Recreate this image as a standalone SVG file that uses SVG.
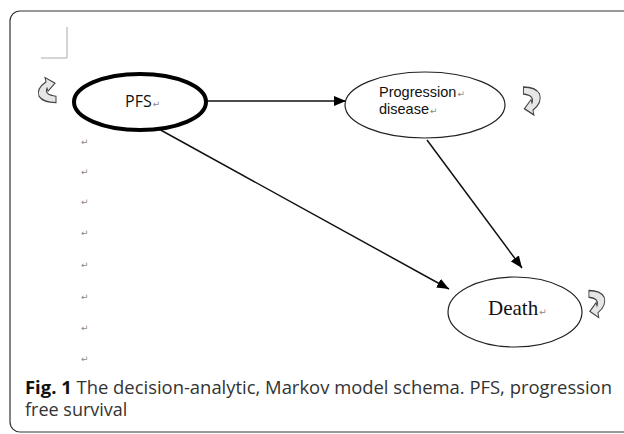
<svg xmlns="http://www.w3.org/2000/svg" width="624" height="434" viewBox="0 0 624 434">
<defs>
<style>
.node{fill:#fff;stroke:#222;stroke-width:1.2}
.thick{stroke:#000;stroke-width:4}
.sans{font-family:"Open Sans","Noto Sans",sans-serif;fill:#111}
.lab{font-family:"Liberation Sans",Arial,sans-serif;fill:#111}
.ret{font-family:"DejaVu Sans",sans-serif;font-size:9px;fill:#888}
.conn{stroke:#111;stroke-width:1.5;fill:none;marker-end:url(#ah)}
.loop{fill:#e6e6e6;stroke:#444;stroke-width:1}
.cap{font-family:"Open Sans","Noto Sans",sans-serif;font-size:18px;fill:#333}
</style>
<marker id="ah" viewBox="0 0 12 10" refX="12" refY="5" markerWidth="12" markerHeight="10" markerUnits="userSpaceOnUse" orient="auto">
<path d="M0,0 L12,5 L0,10 Z" fill="#000"/>
</marker>
<path id="loopIcon" d="M9,5 Q-3,4 0,-1.5 L1,1 L8,-5.5 L-2,-10 L-1,-6.5 Q-11,-1 -8,5 Q-4,10 9,10 Z"/>
</defs>
<rect x="10" y="11" width="640" height="421" rx="10" fill="#fff" stroke="#333" stroke-width="1.2"/>
<path d="M67,27 V58 H41" fill="none" stroke="#aaa" stroke-width="1"/>
<g id="connectors">
<line class="conn" x1="207" y1="101" x2="346" y2="101"/>
<line class="conn" x1="157" y1="128" x2="449" y2="289"/>
<line class="conn" x1="427" y1="140" x2="522" y2="268"/>
</g>
<g id="pfs">
<ellipse class="node thick" cx="140" cy="102" rx="66" ry="28"/>
<text class="sans" x="125" y="107" font-size="16">PFS<tspan class="ret" dx="1">↵</tspan></text>
<use href="#loopIcon" class="loop" transform="translate(47,90) scale(1,1.25)"/>
</g>
<g id="progression">
<ellipse class="node" cx="425" cy="105" rx="80" ry="33"/>
<text class="lab" x="379" y="97" font-size="14.5">Progression<tspan class="ret" dx="1">↵</tspan></text>
<text class="lab" x="379" y="114" font-size="14.5">disease<tspan class="ret" dx="1">↵</tspan></text>
<use href="#loopIcon" class="loop" transform="translate(532,101) rotate(180) scale(0.95,1.4)"/>
</g>
<g id="death">
<ellipse class="node" cx="515" cy="312" rx="67" ry="35"/>
<text x="488" y="315" font-family="Liberation Serif,serif" font-size="21" fill="#111">Death<tspan class="ret" dx="1">↵</tspan></text>
<use href="#loopIcon" class="loop" transform="translate(597,304) rotate(180) scale(0.9,1.35)"/>
</g>
<g id="returns">
<text class="ret" x="81" y="145">↵</text>
<text class="ret" x="81" y="175">↵</text>
<text class="ret" x="81" y="205">↵</text>
<text class="ret" x="81" y="236">↵</text>
<text class="ret" x="81" y="268">↵</text>
<text class="ret" x="81" y="300">↵</text>
<text class="ret" x="81" y="331">↵</text>
<text class="ret" x="81" y="362">↵</text>
</g>
<g id="caption">
<text class="cap" x="25" y="394" textLength="587" lengthAdjust="spacingAndGlyphs"><tspan font-weight="bold" fill="#111">Fig. 1</tspan> The decision-analytic, Markov model schema. PFS, progression</text>
<text class="cap" x="25" y="416">free survival</text>
</g>
</svg>
